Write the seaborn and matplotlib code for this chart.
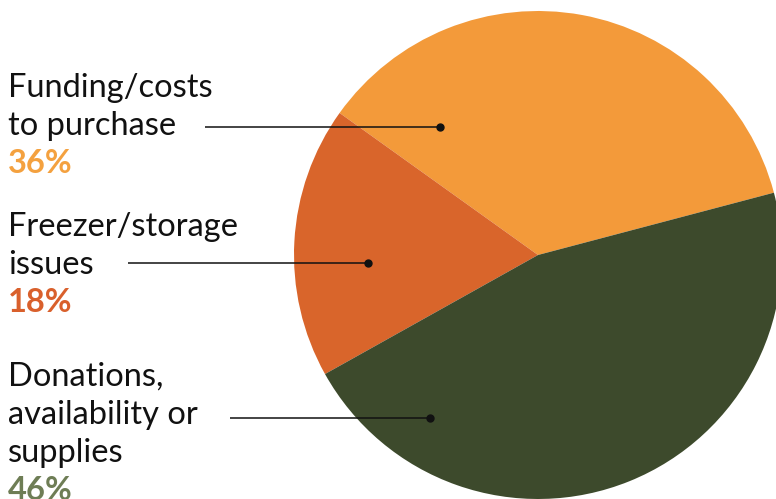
import matplotlib
matplotlib.use("Agg")
import matplotlib.pyplot as plt
import seaborn as sns

# Survey shares of reported barriers
categories = ["Funding/costs\nto purchase", "Freezer/storage\nissues", "Donations,\navailability or\nsupplies"]
shares = [36, 18, 46]
pct_labels = ["36%", "18%", "46%"]

slice_colors = ["#F39A3A", "#D9652B", "#3D4A2C"]
label_colors = ["#F4A13F", "#D9602C", "#6E7D55"]

sns.set_theme(style="white")
plt.rcParams["font.family"] = ["Lato", "DejaVu Sans"]

W, H = 776, 499
fig = plt.figure(figsize=(W / 100, H / 100), dpi=100)
ax = fig.add_axes([0, 0, 1, 1])

# Large pie partially running off the right edge
cx, cy, r = 538, H - 255, 244
ax.pie(shares, colors=slice_colors, startangle=14.8, counterclock=True,
       center=(cx, cy), radius=r, wedgeprops=dict(linewidth=0))

ax.set_xlim(0, W)
ax.set_ylim(0, H)
ax.set_aspect("equal")
ax.axis("off")

# Label blocks: (first-line baseline y, leader line start x, leader y, dot x)
blocks = [
    (97, 205, 127, 440),
    (236, 128, 263, 368),
    (386, 230, 418, 430),
]
line_gap = 38
fs = 23.5

for (base, lx0, ly, dotx), name, pct, pcol in zip(blocks, categories, pct_labels, label_colors):
    lines = name.split("\n")
    for i, ln in enumerate(lines):
        ax.text(8, H - (base + i * line_gap), ln, fontsize=fs, color="#111111",
                ha="left", va="baseline")
    ax.text(8, H - (base + len(lines) * line_gap), pct, fontsize=fs, color=pcol,
            fontweight="bold", ha="left", va="baseline")
    ax.plot([lx0, dotx], [H - ly, H - ly], color="#111111", lw=1.1, solid_capstyle="butt")
    ax.plot([dotx], [H - ly], "o", color="#111111", markersize=5)

fig.savefig("out.png", dpi=100)
